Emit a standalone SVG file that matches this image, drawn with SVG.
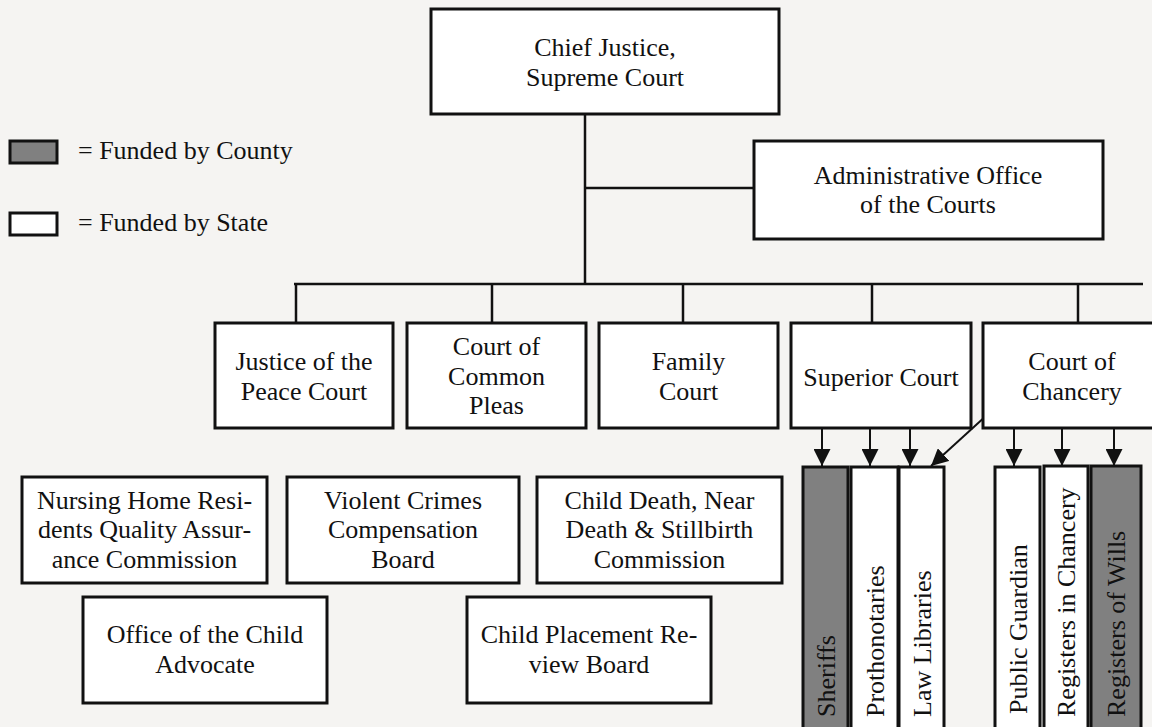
<svg xmlns="http://www.w3.org/2000/svg" width="1152" height="727" viewBox="0 0 1152 727">
<defs>
<style>
.bg{fill:#f5f4f2}
.box{fill:#ffffff;stroke:#111;stroke-width:3}
.cty{fill:#808080;stroke:#111;stroke-width:3}
.ln{stroke:#111;stroke-width:2.5;fill:none}
.ar{stroke:#111;stroke-width:2;fill:none;marker-end:url(#ah)}
text{font-family:'Liberation Serif',serif;font-size:26px;fill:#111}
.c{text-anchor:middle}
</style>
<marker id="ah" markerUnits="userSpaceOnUse" markerWidth="17" markerHeight="17" refX="16" refY="8" orient="auto" viewBox="0 0 16 16">
<path d="M0,0 L16,8 L0,16 Z" fill="#111"/>
</marker>
</defs>
<rect class="bg" x="0" y="0" width="1152" height="727"/>

<g id="legend" font-family="Liberation Serif, serif">
<rect class="cty" x="10" y="141" width="47" height="22"/>
<text x="78" y="159">= Funded by County</text>
<rect class="box" x="10" y="213" width="47" height="22"/>
<text x="78" y="231">= Funded by State</text>
</g>

<g id="connectors">
<line class="ln" x1="585" y1="114" x2="585" y2="284"/>
<line class="ln" x1="585" y1="188" x2="754" y2="188"/>
<line class="ln" x1="294" y1="284" x2="1143" y2="284"/>
<line class="ln" x1="296" y1="284" x2="296" y2="323"/>
<line class="ln" x1="492" y1="284" x2="492" y2="323"/>
<line class="ln" x1="683" y1="284" x2="683" y2="323"/>
<line class="ln" x1="872" y1="284" x2="872" y2="323"/>
<line class="ln" x1="1078" y1="284" x2="1078" y2="323"/>
<line class="ar" x1="822" y1="429" x2="822" y2="466"/>
<line class="ar" x1="870" y1="429" x2="870" y2="466"/>
<line class="ar" x1="910" y1="429" x2="910" y2="466"/>
<line class="ar" x1="987" y1="415" x2="931" y2="466"/>
<line class="ar" x1="1014" y1="429" x2="1014" y2="466"/>
<line class="ar" x1="1062" y1="429" x2="1062" y2="466"/>
<line class="ar" x1="1114" y1="429" x2="1114" y2="466"/>
</g>

<g id="chief-justice">
<rect class="box" x="431" y="9" width="348" height="105"/>
<text class="c" x="605" y="56">Chief Justice,</text>
<text class="c" x="605" y="86">Supreme Court</text>
</g>

<g id="admin-office">
<rect class="box" x="754" y="141" width="349" height="98"/>
<text class="c" x="928" y="184">Administrative Office</text>
<text class="c" x="928" y="213">of the Courts</text>
</g>

<g id="justice-peace">
<rect class="box" x="215" y="323" width="178" height="105"/>
<text class="c" x="304" y="370">Justice of the</text>
<text class="c" x="304" y="400">Peace Court</text>
</g>

<g id="common-pleas">
<rect class="box" x="407" y="323" width="179" height="105"/>
<text class="c" x="496.5" y="355">Court of</text>
<text class="c" x="496.5" y="385">Common</text>
<text class="c" x="496.5" y="414">Pleas</text>
</g>

<g id="family-court">
<rect class="box" x="599" y="323" width="179" height="105"/>
<text class="c" x="688.5" y="370">Family</text>
<text class="c" x="688.5" y="400">Court</text>
</g>

<g id="superior-court">
<rect class="box" x="791" y="323" width="180" height="105"/>
<text class="c" x="881" y="386">Superior Court</text>
</g>

<g id="chancery">
<rect class="box" x="983" y="323" width="179" height="105"/>
<text class="c" x="1072" y="370">Court of</text>
<text class="c" x="1072" y="400">Chancery</text>
</g>

<g id="sheriffs">
<rect class="cty" x="803" y="467" width="45" height="275"/>
<text transform="translate(835,717) rotate(-90)">Sheriffs</text>
</g>
<g id="prothonotaries">
<rect class="box" x="851" y="467" width="47" height="275"/>
<text transform="translate(884,717) rotate(-90)">Prothonotaries</text>
</g>
<g id="law-libraries">
<rect class="box" x="899" y="467" width="45" height="275"/>
<text transform="translate(931,717) rotate(-90)">Law Libraries</text>
</g>
<g id="public-guardian">
<rect class="box" x="995" y="467" width="45" height="275"/>
<text transform="translate(1027,714) rotate(-90)">Public Guardian</text>
</g>
<g id="registers-chancery">
<rect class="box" x="1044" y="466" width="44" height="276"/>
<text transform="translate(1075,717) rotate(-90)">Registers in Chancery</text>
</g>
<g id="registers-wills">
<rect class="cty" x="1091" y="466" width="50" height="276"/>
<text transform="translate(1125,717) rotate(-90)">Registers of Wills</text>
</g>

<g id="nursing-home">
<rect class="box" x="22" y="477" width="245" height="106"/>
<text class="c" x="144.5" y="509">Nursing Home Resi-</text>
<text class="c" x="144.5" y="538">dents Quality Assur-</text>
<text class="c" x="144.5" y="568">ance Commission</text>
</g>

<g id="violent-crimes">
<rect class="box" x="287" y="477" width="232" height="106"/>
<text class="c" x="403" y="509">Violent Crimes</text>
<text class="c" x="403" y="538">Compensation</text>
<text class="c" x="403" y="568">Board</text>
</g>

<g id="child-death">
<rect class="box" x="537" y="477" width="245" height="106"/>
<text class="c" x="659.5" y="509">Child Death, Near</text>
<text class="c" x="659.5" y="538">Death &amp; Stillbirth</text>
<text class="c" x="659.5" y="568">Commission</text>
</g>

<g id="child-advocate">
<rect class="box" x="83" y="597" width="244" height="106"/>
<text class="c" x="205" y="643">Office of the Child</text>
<text class="c" x="205" y="673">Advocate</text>
</g>

<g id="child-placement">
<rect class="box" x="467" y="597" width="244" height="106"/>
<text class="c" x="589" y="643">Child Placement Re-</text>
<text class="c" x="589" y="673">view Board</text>
</g>
</svg>
